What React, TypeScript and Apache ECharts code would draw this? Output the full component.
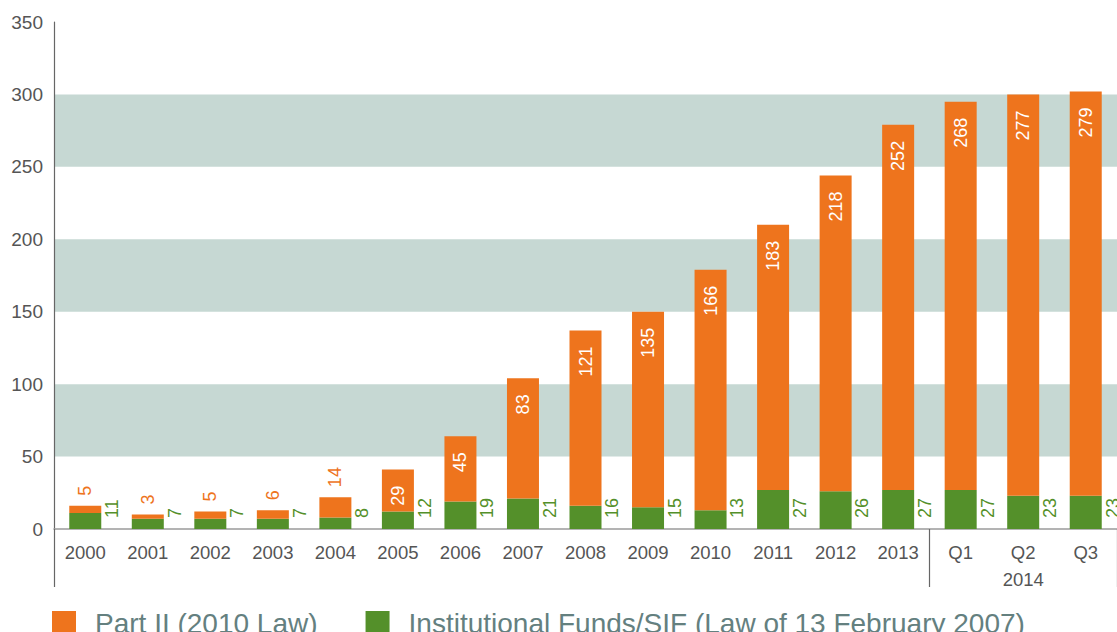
import React, { useEffect, useRef } from "react";
import * as echarts from "echarts";

const categories = ["2000","2001","2002","2003","2004","2005","2006","2007","2008","2009","2010","2011","2012","2013","Q1","Q2\n2014","Q3"];
const partII = [5,3,5,6,14,29,45,83,121,135,166,183,218,252,268,277,279];
const institutional = [11,7,7,7,8,12,19,21,16,15,13,27,26,27,27,23,23];
const yTicks = [0,50,100,150,200,250,300,350];

const ORANGE = "#ee741d";
const GREEN = "#54902a";
const BAND = "#c6d8d3";
const FONT = "'Liberation Sans', Arial, sans-serif";

export default function App() {
  const ref = useRef<HTMLDivElement>(null);
  useEffect(() => {
    if (!ref.current) return;
    const chart = echarts.init(ref.current, null, { renderer: "svg" });
    const orangeData = partII.map((v) => {
      const small = v < 20;
      return {
        value: v,
        label: small
          ? { position: "top", distance: 10, color: ORANGE, align: "left" }
          : { position: "insideTop", distance: 16, color: "#ffffff", align: "right" },
      };
    });
    chart.setOption({
      animation: false,
      textStyle: { fontFamily: FONT },
      grid: { left: 54, right: 0, top: 22, bottom: 103 },
      xAxis: {
        type: "category",
        data: categories,
        axisLine: { lineStyle: { color: "#9a9a9a", width: 1.5 } },
        axisTick: {
          show: true,
          interval: (i: number) => i === 0 || i === 14,
          length: 58,
          lineStyle: { color: "#666", width: 1.2 },
        },
        axisLabel: {
          color: "#555",
          fontSize: 18.5,
          lineHeight: 27,
          margin: 10,
          interval: 0,
          fontFamily: FONT,
        },
      },
      yAxis: {
        type: "value",
        min: 0,
        max: 350,
        interval: 50,
        axisLine: { show: true, lineStyle: { color: "#666", width: 1.2 } },
        axisTick: { show: false },
        splitLine: { show: false },
        splitArea: { show: true, areaStyle: { color: ["rgba(0,0,0,0)", BAND] } },
        axisLabel: {
          color: "#555",
          fontSize: 19,
          margin: 11,
          fontFamily: FONT,
          formatter: (v: number) => (yTicks.includes(v) ? String(v) : ""),
        },
      },
      legend: {
        left: 47,
        top: 604,
        itemWidth: 24,
        itemHeight: 24,
        itemGap: 48,
        icon: "rect",
        textStyle: {
          color: "#64807f",
          fontSize: 28,
          fontFamily: FONT,
          padding: [0, 0, 0, 14],
        },
        data: ["Part II (2010 Law)", "Institutional Funds/SIF (Law of 13 February 2007)"],
      },
      series: [
        {
          name: "Institutional Funds/SIF (Law of 13 February 2007)",
          type: "bar",
          stack: "total",
          barWidth: 32,
          itemStyle: { color: GREEN },
          data: institutional,
          label: {
            show: true,
            position: ["134%", "100%"],
            rotate: 90,
            align: "left",
            verticalAlign: "middle",
            padding: [0, 0, 0, 11],
            color: GREEN,
            fontSize: 18,
            fontFamily: FONT,
          },
        },
        {
          name: "Part II (2010 Law)",
          type: "bar",
          stack: "total",
          barWidth: 32,
          itemStyle: { color: ORANGE },
          data: orangeData,
          label: {
            show: true,
            rotate: 90,
            verticalAlign: "middle",
            fontSize: 18,
            fontFamily: FONT,
          },
        },
      ],
    });
    return () => chart.dispose();
  }, []);
  return <div ref={ref} style={{ width: 1117, height: 632, position: "absolute", left: 0, top: 0 }} />;
}
